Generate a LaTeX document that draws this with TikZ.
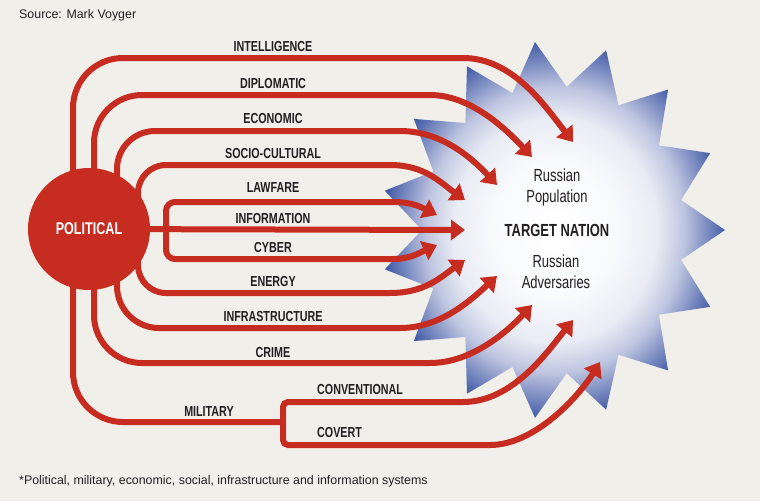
\documentclass[tikz,border=0pt]{standalone}
\usepackage{fontspec}
\setmainfont{Liberation Sans}
\newfontfamily\condfont[FakeStretch=0.74]{Liberation Sans}
\usetikzlibrary{arrows.meta}

\definecolor{paper}{RGB}{241,239,234}
\definecolor{polred}{RGB}{199,44,32}
\definecolor{starblue}{RGB}{70,94,168}
\definecolor{starpale}{RGB}{190,197,224}
\definecolor{inkgrey}{RGB}{35,31,32}

\pgfdeclareradialshading{starglow}{\pgfpoint{0bp}{0bp}}{%
  color(0bp)=(white); color(9bp)=(white!97!starblue); color(15bp)=(white!88!starblue);
  color(19bp)=(starpale); color(25bp)=(starblue); color(50bp)=(starblue)}

\begin{document}
\begin{tikzpicture}[x=1pt, y=-1pt,
    wire/.style={draw=polred, line width=6pt},
    arrowwire/.style={wire, -{Triangle[length=14pt,width=20pt]}},
    lbl/.style={text=inkgrey, font=\condfont\bfseries\fontsize{14.5}{16}\selectfont},
    tgtlbl/.style={text=inkgrey, align=center, font=\condfont\fontsize{17.5}{21}\selectfont},
    note/.style={text=inkgrey, anchor=west, inner sep=0pt, font=\fontsize{12.4}{14}\selectfont}]
	\fill[paper] (0,0) rectangle (760,501);
	\useasboundingbox (0,0) rectangle (760,501);

	\shade[shading=starglow, shift={(553,230)}] (0:172 and 189)
		\foreach \k in {0,...,14} { -- ({24*\k+12}:131 and 144) -- ({24*\k+24}:172 and 189) } -- cycle;

	\node [circle, fill=polred, minimum size=122pt, inner sep=0pt] (pol) at (89,229) {};
	\node [tgtlbl, font=\condfont\bfseries\fontsize{17.5}{21}\selectfont] (tgt) at (557,230) {TARGET NATION};
	\node [tgtlbl] (pop) at (557,187) {Russian\\Population};
	\node [tgtlbl] (adv) at (556,272) {Russian\\Adversaries};

	\coordinate (tIntel) at (573,142);
	\coordinate (tDipl) at (532,157);
	\coordinate (tEcon) at (497,185);
	\coordinate (tSocio) at (465,200);
	\coordinate (tLaw) at (437,215);
	\coordinate (tInfo) at (465,230);
	\coordinate (tCyber) at (437,245);
	\coordinate (tEnergy) at (465,260);
	\coordinate (tInfra) at (497,276);
	\coordinate (tCrime) at (532,305);
	\coordinate (tConv) at (573,320);
	\coordinate (tCovert) at (600,362);
	\coordinate (br) at (166,230);
	\coordinate (mil) at (283,422);

	\draw [arrowwire] ([xshift=-16pt]pol.center) [rounded corners=50pt] |- (200,58) [sharp corners] -- (463,58) .. controls (513,58) and (545,106) .. (tIntel);
	\draw [arrowwire] ([xshift=5pt]pol.center) [rounded corners=48pt] |- (200,95) [sharp corners] -- (430,95) .. controls (470,95) and (505,128) .. (tDipl);
	\draw [arrowwire] ([xshift=28pt]pol.center) [rounded corners=38pt] |- (200,131) [sharp corners] -- (400,131) .. controls (440,131) and (470,156) .. (tEcon);
	\draw [arrowwire] ([xshift=49pt]pol.center) [rounded corners=28pt] |- (200,165) [sharp corners] -- (390,165) .. controls (425,165) and (441,183) .. (tSocio);
	\draw [arrowwire] (br) [rounded corners=9pt] |- (200,202) [sharp corners] -- (393,202) .. controls (410,202) and (419,206) .. (tLaw);
	\draw [arrowwire] (pol.center) -- (tInfo);
	\draw [arrowwire] (br) [rounded corners=9pt] |- (200,259) [sharp corners] -- (393,259) .. controls (410,259) and (419,253) .. (tCyber);
	\draw [arrowwire] ([xshift=49pt]pol.center) [rounded corners=28pt] |- (200,293) [sharp corners] -- (390,293) .. controls (425,293) and (441,277) .. (tEnergy);
	\draw [arrowwire] ([xshift=28pt]pol.center) [rounded corners=42pt] |- (200,328) [sharp corners] -- (400,328) .. controls (440,328) and (470,301) .. (tInfra);
	\draw [arrowwire] ([xshift=5pt]pol.center) [rounded corners=48pt] |- (200,363) [sharp corners] -- (430,363) .. controls (470,363) and (505,334) .. (tCrime);
	\draw [wire] ([xshift=-16pt]pol.center) [rounded corners=50pt] |- (mil);
	\draw [arrowwire] (mil) [rounded corners=5pt] |- (320,402) [sharp corners] -- (463,402) .. controls (513,402) and (548,351) .. (tConv);
	\draw [arrowwire] (mil) [rounded corners=5pt] |- (320,445) [sharp corners] -- (490,445) .. controls (535,445) and (579,396) .. (tCovert);

	\node [text=white, font=\condfont\bfseries\fontsize{17}{20}\selectfont] (polTxt) at (pol.center) {POLITICAL};

	\node [lbl] (lIntel) at (273,47) {INTELLIGENCE};
	\node [lbl] (lDipl) at (273,84) {DIPLOMATIC};
	\node [lbl] (lEcon) at (273,119) {ECONOMIC};
	\node [lbl] (lSocio) at (273,154) {SOCIO-CULTURAL};
	\node [lbl] (lLaw) at (273,188) {LAWFARE};
	\node [lbl] (lInfo) at (273,219) {INFORMATION};
	\node [lbl] (lCyber) at (273,248) {CYBER};
	\node [lbl] (lEnergy) at (273,282) {ENERGY};
	\node [lbl] (lInfra) at (273,317) {INFRASTRUCTURE};
	\node [lbl] (lCrime) at (273,353) {CRIME};
	\node [lbl] (lMil) at (209,412) {MILITARY};
	\node [lbl, anchor=west, inner sep=0pt] (lConv) at (317,390) {CONVENTIONAL};
	\node [lbl, anchor=west, inner sep=0pt] (lCovert) at (317,433) {COVERT};

	\node [note] (src) at (19,15) {Source: Mark Voyger};
	\node [note] (foot) at (19,481) {*Political, military, economic, social, infrastructure and information systems};
\end{tikzpicture}
\end{document}
